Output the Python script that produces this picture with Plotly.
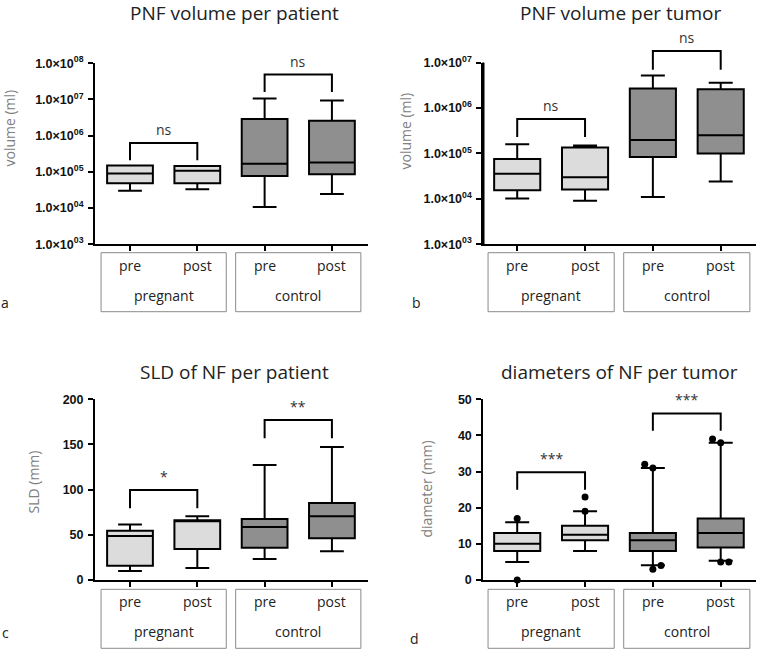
import numpy as np
import plotly.graph_objects as go

W, H = 758, 649

# ---------------- data ----------------
categories = ["pre", "post", "pre", "post"]
groups = ["pregnant", "control"]

# a: PNF volume per patient (ml)
a_low = [3.0e4, 3.3e4, 1.07e4, 2.45e4]
a_q1 = [4.8e4, 4.8e4, 7.7e4, 8.6e4]
a_med = [9.0e4, 1.07e5, 1.67e5, 1.8e5]
a_q3 = [1.5e5, 1.45e5, 2.9e6, 2.6e6]
a_high = [1.5e5, 1.45e5, 1.07e7, 9.3e6]
a_sig = ["ns", "ns"]
a_br_top = [6.3e5, 4.9e7]
a_br_end = [2.1e5, 1.6e7]

# b: PNF volume per tumor (ml)
b_low = [1.02e4, 9.1e3, 1.1e4, 2.4e4]
b_q1 = [1.55e4, 1.6e4, 8.3e4, 1.0e5]
b_med = [3.55e4, 3.0e4, 1.97e5, 2.5e5]
b_q3 = [7.5e4, 1.35e5, 2.7e6, 2.6e6]
b_high = [1.6e5, 1.5e5, 5.2e6, 3.6e6]
b_sig = ["ns", "ns"]
b_br_top = [5.7e5, 1.8e7]
b_br_end = [2.3e5, 7.0e6]

# c: SLD of NF per patient (mm)
c_low = [10, 13.3, 23.2, 31.7]
c_q1 = [15.9, 34.3, 35.8, 46.1]
c_med = [48.7, 65, 58.7, 70.5]
c_q3 = [54.6, 66, 67.5, 85.2]
c_high = [61.3, 70.5, 127.3, 147.2]
c_sig = ["*", "**"]
c_br_top = [99.6, 177]
c_br_end = [79.3, 156.8]

# d: diameters of NF per tumor (mm)
d_low = [5, 8, 4.1, 5.3]
d_q1 = [8, 11, 8, 9]
d_med = [10, 12.5, 11, 13]
d_q3 = [13, 15, 13, 17]
d_high = [16, 19, 31, 38]
d_out = [[17, 0], [23, 19], [32, 31, 3, 4], [39, 38, 5, 5]]
d_sig = ["***", "***"]
d_br_top = [29.8, 46.1]
d_br_end = [25, 41.3]

log_ticks = [1e3, 1e4, 1e5, 1e6, 1e7, 1e8]
log_ticktext = ["1.0×10<sup>%02d</sup>" % int(round(np.log10(v))) for v in log_ticks]

# ---------------- style ----------------
FILL = ["#dcdcdc", "#dcdcdc", "#8f8f8f", "#8f8f8f"]
FONT = "Open Sans"
TICKFONT = dict(family="Liberation Sans", size=12.5, color="#111", weight="bold")


def px_x(p):
    return p / W


def px_y(p):
    return 1 - p / H


fig = go.Figure()

# panel b brackets live on an invisible log axis (y5) that shares y2's scale but
# extends above it, so the visible axis can stop at 1e7
panels = [
    dict(ax="", bax="", low=a_low, q1=a_q1, med=a_med, q3=a_q3, high=a_high, sig=a_sig,
         bt=a_br_top, be=a_br_end, log=True),
    dict(ax="2", bax="5", low=b_low, q1=b_q1, med=b_med, q3=b_q3, high=b_high, sig=b_sig,
         bt=b_br_top, be=b_br_end, log=True),
    dict(ax="3", bax="3", low=c_low, q1=c_q1, med=c_med, q3=c_q3, high=c_high, sig=c_sig,
         bt=c_br_top, be=c_br_end, log=False),
    dict(ax="4", bax="4", low=d_low, q1=d_q1, med=d_med, q3=d_q3, high=d_high, sig=d_sig,
         bt=d_br_top, be=d_br_end, log=False),
]

annotations = []
shapes = []

for p in panels:
    xa, ya = "x" + p["ax"], "y" + p["ax"]
    yb = "y" + p["bax"]
    for i in range(4):
        fig.add_trace(go.Box(
            x=[i], q1=[p["q1"][i]], median=[p["med"][i]], q3=[p["q3"][i]],
            lowerfence=[p["low"][i]], upperfence=[p["high"][i]],
            width=0.68, whiskerwidth=0.52, fillcolor=FILL[i],
            line=dict(color="black", width=2), boxpoints=False,
            xaxis=xa, yaxis=ya, showlegend=False, hoverinfo="skip"))
    # significance brackets
    for k in range(2):
        i0, i1 = 2 * k, 2 * k + 1
        fig.add_trace(go.Scatter(
            x=[i0, i0, i1, i1], y=[p["be"][k], p["bt"][k], p["bt"][k], p["be"][k]],
            mode="lines", line=dict(color="black", width=2),
            xaxis=xa, yaxis=yb, showlegend=False, hoverinfo="skip"))
        ytop = np.log10(p["bt"][k]) if p["log"] else p["bt"][k]
        annotations.append(dict(
            x=(i0 + i1) / 2, y=ytop, xref=xa, yref=yb, text=p["sig"][k],
            showarrow=False, yanchor="bottom", yshift=2,
            font=dict(family=FONT, size=14, color="#333")))

# outliers in panel d, dodged horizontally when overlapping
ox, oy = [], []
for i, vals in enumerate(d_out):
    placed = []
    for v in sorted(vals):
        near = [q for q in placed if abs(q - v) < 1.6]
        side = -1 if v > d_med[i] else 1
        off = side * 0.12 * len(near)
        placed.append(v)
        ox.append(i + off)
        oy.append(v)
fig.add_trace(go.Scatter(x=ox, y=oy, mode="markers",
                         marker=dict(color="black", size=7), cliponaxis=False,
                         xaxis="x4", yaxis="y4", showlegend=False, hoverinfo="skip"))

# ---------------- axes ----------------
xcommon = dict(showgrid=False, zeroline=False, showline=True, linecolor="black",
               linewidth=2, ticks="outside", ticklen=5, tickwidth=2, tickcolor="black",
               tickvals=[0, 1, 2, 3], showticklabels=False, fixedrange=True, automargin=False)
ycommon = dict(showgrid=False, zeroline=False, showline=True, linecolor="black",
               linewidth=2, ticks="outside", ticklen=5, tickwidth=2, tickcolor="black",
               tickfont=TICKFONT, ticklabelstandoff=2, fixedrange=True, automargin=False)

rowA_bottom, rowC_bottom = 244.2, 580
left_l, left_r = 95, 368
right_l, right_r = 483.3, 755.7
b_decade = 45.4
b_ext = 7.5
b_top_px = rowA_bottom - 4 * b_decade
b_dom = [px_y(rowA_bottom), px_y(b_top_px)]

# panel b's vertical axis line, drawn on a tiny helper subplot centred on its left edge
fig.add_trace(go.Scatter(x=[0, 0], y=[log_ticks[0], log_ticks[4]], mode="lines",
                         line=dict(color="black", width=2), xaxis="x6", yaxis="y6",
                         showlegend=False, hoverinfo="skip"))
# and once more as a paper-referenced shape along the same edge
shapes.append(dict(type="line", xref="paper", yref="paper",
                   x0=px_x(right_l), x1=px_x(right_l), y0=b_dom[0], y1=b_dom[1],
                   line=dict(color="black", width=2), layer="above"))

hidden = dict(visible=False, fixedrange=True, showgrid=False, zeroline=False)

fig.update_layout(
    template="none",
    xaxis=dict(xcommon, domain=[px_x(left_l), px_x(left_r)], range=[-0.52, 3.536], anchor="y"),
    xaxis2=dict(xcommon, domain=[px_x(right_l), px_x(right_r)], range=[-0.5, 3.516], anchor="y2"),
    xaxis3=dict(xcommon, domain=[px_x(left_l), px_x(left_r)], range=[-0.52, 3.536], anchor="y3"),
    xaxis4=dict(xcommon, domain=[px_x(right_l), px_x(right_r)], range=[-0.5, 3.516], anchor="y4"),
    xaxis6=dict(hidden, domain=[px_x(right_l - 4), px_x(right_l + 4)], range=[-1, 1], anchor="y6"),
    yaxis=dict(ycommon, type="log", range=[3, 8], domain=[px_y(rowA_bottom), px_y(63.3)],
               tickvals=log_ticks, ticktext=log_ticktext, anchor="x"),
    yaxis2=dict(ycommon, type="log", range=[3, 7], domain=b_dom,
                tickvals=log_ticks[:5], ticktext=log_ticktext[:5], anchor="x2"),
    yaxis5=dict(hidden, type="log", range=[3, b_ext],
                domain=[px_y(rowA_bottom), px_y(rowA_bottom - (b_ext - 3) * b_decade)],
                anchor="x2"),
    yaxis6=dict(hidden, type="log", range=[3, 7], domain=b_dom, anchor="x6"),
    yaxis3=dict(ycommon, range=[0, 200], domain=[px_y(rowC_bottom), px_y(399.3)],
                tickvals=[0, 50, 100, 150, 200], anchor="x3"),
    yaxis4=dict(ycommon, range=[0, 50], domain=[px_y(rowC_bottom), px_y(399.3)],
                tickvals=[0, 10, 20, 30, 40, 50], anchor="x4"),
    boxmode="overlay",
    width=W, height=H, autosize=False,
    margin=dict(l=0, r=0, t=0, b=0, pad=0, autoexpand=False),
    paper_bgcolor="white", plot_bgcolor="rgba(0,0,0,0)",
    showlegend=False,
)

# titles, axis titles, panel letters
titles = [("PNF volume per patient", 234, 12.5), ("PNF volume per tumor", 620, 12.5),
          ("SLD of NF per patient", 234, 372), ("diameters of NF per tumor", 619.5, 372)]
for t, x, y in titles:
    annotations.append(dict(text=t, x=px_x(x), y=px_y(y), xref="paper", yref="paper",
                            showarrow=False, xanchor="center", yanchor="middle",
                            font=dict(family=FONT, size=19, color="#222")))

ytitles = [("volume (ml)", 9.5, 128), ("volume (ml)", 405, 131.5),
           ("SLD (mm)", 32.5, 482), ("diameter (mm)", 425.5, 489)]
for t, x, y in ytitles:
    annotations.append(dict(text=t, x=px_x(x), y=px_y(y), xref="paper", yref="paper",
                            showarrow=False, textangle=-90, xanchor="center", yanchor="middle",
                            font=dict(family=FONT, size=14, color="#808080")))

letters = [("a", 5, 302), ("b", 416, 302), ("c", 5, 632), ("d", 414, 638)]
for t, x, y in letters:
    annotations.append(dict(text=t, x=px_x(x), y=px_y(y), xref="paper", yref="paper",
                            showarrow=False, xanchor="center", yanchor="middle",
                            font=dict(family=FONT, size=14, color="#222")))

# category boxes below the x axes
for xa, top in [("x", 252.7), ("x2", 252.7), ("x3", 589.3), ("x4", 589.3)]:
    bottom = top + 59
    for g in range(2):
        i0, i1 = 2 * g, 2 * g + 1
        shapes.append(dict(type="rect", xref=xa, yref="paper",
                           x0=i0 - 0.43, x1=i1 + 0.43, y0=px_y(bottom), y1=px_y(top),
                           line=dict(color="#8a8a8a", width=1)))
        annotations.append(dict(text=groups[g], x=(i0 + i1) / 2, y=px_y(top + 42.5),
                                xref=xa, yref="paper", showarrow=False,
                                xanchor="center", yanchor="middle",
                                font=dict(family=FONT, size=14, color="#222")))
        for i in (i0, i1):
            annotations.append(dict(text=categories[i], x=i, y=px_y(top + 12.4),
                                    xref=xa, yref="paper", showarrow=False,
                                    xanchor="center", yanchor="middle",
                                    font=dict(family=FONT, size=14, color="#222")))

fig.update_layout(annotations=annotations, shapes=shapes)
fig.write_html("out.html", config={"displayModeBar": False, "staticPlot": True},
               post_script="document.body.style.margin='0';document.body.style.overflow='hidden';")
